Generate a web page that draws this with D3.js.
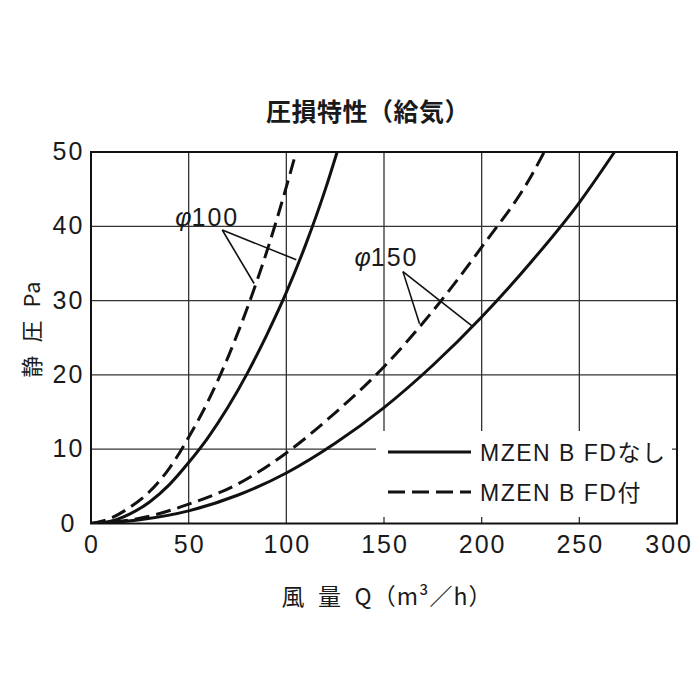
<!DOCTYPE html>
<html>
<head>
<meta charset="utf-8">
<script src="https://cdn.jsdelivr.net/npm/d3@7"></script>
<style>
  body { margin: 0; background: #fff; }
</style>
</head>
<body>
<svg id="chart"></svg>
<script>
// chart data
// air flow Q (m3/h) and static pressure (Pa) for each curve
var q100   = [0, 10, 20, 30, 40, 50, 60, 70, 80, 90, 100, 110, 120, 126];
var p100   = [0, 0.3, 1.3, 2.9, 5.2, 8.2, 11.6, 15.6, 20.2, 25.4, 31.1, 37.6, 45.0, 50];
var q100fd = [0, 10, 20, 30, 40, 50, 60, 70, 80, 90, 100, 105];
var p100fd = [0, 0.7, 2.2, 4.3, 7.4, 11.6, 16.5, 22.3, 29, 36.6, 45.3, 50];
var q150   = [0, 25, 50, 75, 100, 125, 150, 175, 200, 225, 250, 268];
var p150   = [0, 0.5, 1.7, 3.8, 6.8, 10.8, 15.6, 21.3, 27.8, 35.1, 43.2, 50];
var q150fd = [0, 25, 50, 75, 100, 125, 150, 175, 200, 225, 232];
var p150fd = [0, 0.7, 2.6, 5.3, 9.5, 14.9, 21.1, 28.6, 37.2, 46.6, 50];

var xTicks = [0, 50, 100, 150, 200, 250, 300];
var yTicks = [0, 10, 20, 30, 40, 50];

var legendLabels = ["MZEN B FDなし", "MZEN B FD付"];

// leader annotations: label point, start of leader, ends on solid / dashed curve
var annoText  = ["100", "150"];
var annoLabel = [[43.1, 40], [134.9, 34.6]];
var annoFrom  = [[67.2, 39.5], [159.7, 33.9]];
var annoTo    = [[[105.1, 35.5], [83.5, 32.3]], [[195.5, 26.5], [168.2, 26.9]]];

/*
 *  canvas
 */
var width = 700, height = 700;
// plot area edges (note: "top" is taken by window.top)
var pLeft = 91, pRight = 677, pTop = 152, pBottom = 523.5;

var numFont = "'Liberation Sans', Arial, sans-serif";
var jpFont = "'Noto Sans CJK JP', 'Noto Sans', sans-serif";
var ink = "#1a1a1a";

var svg = d3.select("#chart")
  .attr("width", width)
  .attr("height", height)
  .style("background", "#fff");

var x = d3.scaleLinear().domain([0, 300]).range([pLeft, pRight]);
var y = d3.scaleLinear().domain([0, 50]).range([pBottom, pTop]);

// grid lines
svg.append("g").selectAll("line")
  .data(xTicks.slice(1, -1))
  .enter().append("line")
    .attr("x1", d => x(d)).attr("x2", d => x(d))
    .attr("y1", pTop).attr("y2", pBottom)
    .attr("stroke", "#333").attr("stroke-width", 1.3);

svg.append("g").selectAll("line")
  .data(yTicks.slice(1, -1))
  .enter().append("line")
    .attr("x1", pLeft).attr("x2", pRight)
    .attr("y1", d => y(d)).attr("y2", d => y(d))
    .attr("stroke", "#333").attr("stroke-width", 1.3);

// white box behind the legend (breaks the grid)
svg.append("rect")
  .attr("x", 376).attr("y", 431)
  .attr("width", pRight - 5 - 376).attr("height", 517 - 431)
  .attr("fill", "#fff");

// plot border
svg.append("rect")
  .attr("x", pLeft).attr("y", pTop)
  .attr("width", pRight - pLeft).attr("height", pBottom - pTop)
  .attr("fill", "none").attr("stroke", "#111").attr("stroke-width", 2);

// curves
var line = d3.line()
  .x(d => x(d[0]))
  .y(d => y(d[1]))
  .curve(d3.curveMonotoneX);

function zipPts(qs, ps) {
  return qs.map((q, i) => [q, ps[i]]);
}

var curves = [
  { pts: zipPts(q100, p100), dash: null },
  { pts: zipPts(q100fd, p100fd), dash: "15,7" },
  { pts: zipPts(q150, p150), dash: null },
  { pts: zipPts(q150fd, p150fd), dash: "15,7" }
];

svg.append("defs").append("clipPath").attr("id", "plotclip")
  .append("rect")
    .attr("x", pLeft).attr("y", pTop - 2)
    .attr("width", pRight - pLeft).attr("height", pBottom - pTop + 2);

svg.append("g").attr("clip-path", "url(#plotclip)")
  .selectAll("path")
  .data(curves)
  .enter().append("path")
    .attr("d", d => line(d.pts))
    .attr("fill", "none")
    .attr("stroke", "#111")
    .attr("stroke-width", 3)
    .attr("stroke-dasharray", d => d.dash);

// leader lines and labels
annoText.forEach(function(t, i) {
  annoTo[i].forEach(function(p) {
    svg.append("line")
      .attr("x1", x(annoFrom[i][0])).attr("y1", y(annoFrom[i][1]))
      .attr("x2", x(p[0])).attr("y2", y(p[1]))
      .attr("stroke", "#111").attr("stroke-width", 1.6);
  });
  var lbl = svg.append("text")
    .attr("x", x(annoLabel[i][0]))
    .attr("y", y(annoLabel[i][1]))
    .attr("font-family", numFont)
    .attr("font-size", 25)
    .attr("fill", ink);
  lbl.append("tspan").attr("font-style", "italic").text("φ");
  lbl.append("tspan").attr("letter-spacing", 2).text(t);
});

// legend
legendLabels.forEach(function(t, i) {
  var ly = 452 + i * 40;
  svg.append("line")
    .attr("x1", 388).attr("x2", 471)
    .attr("y1", ly).attr("y2", ly)
    .attr("stroke", "#111").attr("stroke-width", 3.2)
    .attr("stroke-dasharray", i == 1 ? "17,7" : null);
  svg.append("text")
    .attr("x", 480).attr("y", ly + 9)
    .attr("font-family", numFont + ", " + jpFont)
    .attr("font-size", 23)
    .attr("letter-spacing", 1.5)
    .attr("fill", ink)
    .text(t);
});

// tick labels
svg.append("g").selectAll("text")
  .data(yTicks)
  .enter().append("text")
    .attr("x", 68.5)
    .attr("y", d => y(d) + 8)
    .attr("text-anchor", "middle")
    .attr("font-family", numFont)
    .attr("font-size", 25)
    .attr("letter-spacing", 2)
    .attr("fill", ink)
    .text(d => d);

svg.append("g").selectAll("text")
  .data(xTicks)
  .enter().append("text")
    .attr("x", d => d == 300 ? x(d) + 16 : x(d) + 1)
    .attr("y", 553)
    .attr("text-anchor", d => d == 300 ? "end" : "middle")
    .attr("font-family", numFont)
    .attr("font-size", 25)
    .attr("letter-spacing", 2)
    .attr("fill", ink)
    .text(d => d);

// titles
svg.append("text")
  .attr("x", 368).attr("y", 121)
  .attr("text-anchor", "middle")
  .attr("font-family", jpFont)
  .attr("font-size", 25)
  .attr("font-weight", "bold")
  .attr("letter-spacing", 0.5)
  .attr("fill", ink)
  .text("圧損特性（給気）");

svg.append("text")
  .attr("x", 387).attr("y", 605)
  .attr("text-anchor", "middle")
  .attr("font-family", jpFont)
  .attr("font-size", 23)
  .attr("letter-spacing", 1)
  .attr("fill", ink)
  .text("風\u2002量\u2002Q（m³／h）");

svg.append("text")
  .attr("transform", "translate(40,329) rotate(-90)")
  .attr("text-anchor", "middle")
  .attr("font-family", jpFont)
  .attr("font-size", 22)
  .attr("letter-spacing", 1)
  .attr("fill", ink)
  .text("静\u2002圧\u2002Pa");
</script>
</body>
</html>
